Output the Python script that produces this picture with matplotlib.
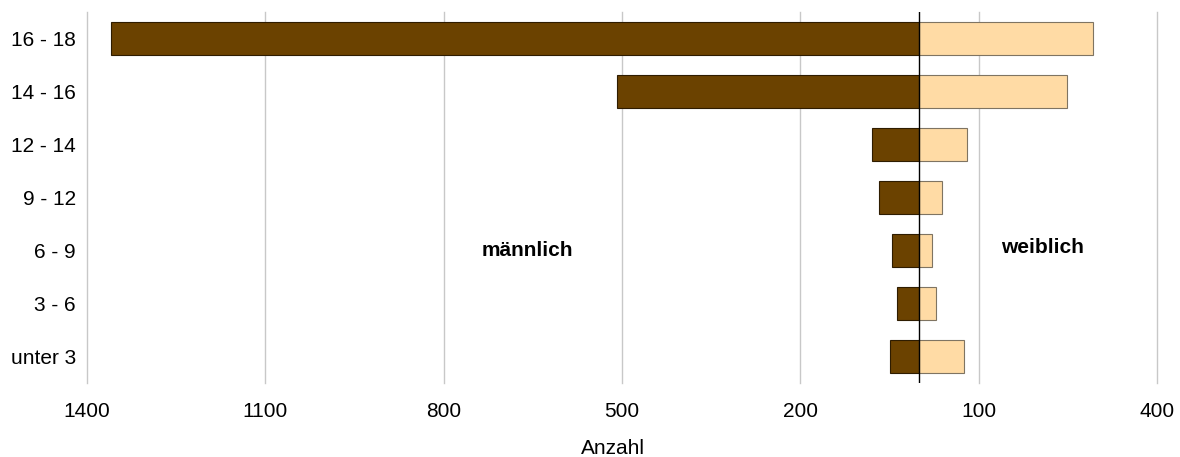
import matplotlib
matplotlib.use("Agg")
import matplotlib.pyplot as plt
import numpy as np

plt.rcParams['font.family'] = ['Liberation Sans', 'DejaVu Sans']

categories = ["unter 3", "3 - 6", "6 - 9", "9 - 12", "12 - 14", "14 - 16", "16 - 18"]
maennlich = [50, 37, 45, 67, 80, 508, 1360]
weiblich = [76, 28, 21, 39, 81, 248, 293]
tick_values = [-1400, -1100, -800, -500, -200, 100, 400]
tick_labels = ["1400", "1100", "800", "500", "200", "100", "400"]

fig = plt.figure(figsize=(11.8, 4.57), dpi=100)
ax = fig.add_axes([87/1180, 1-383/457, (1157-87)/1180, (383-12)/457])

y = np.arange(len(categories))
ax.barh(y, [-v for v in maennlich], height=0.63, color="#6B4200",
        edgecolor="#2E1C00", linewidth=0.8, zorder=3)
ax.barh(y, weiblich, height=0.63, color="#FFDBA5",
        edgecolor="#7F7462", linewidth=0.8, zorder=3)
ax.axvline(0, color="black", linewidth=1.0, zorder=4)

ax.set_xlim(-1400, 400)
ax.set_ylim(-0.5, len(categories) - 0.5)
ax.set_xticks(tick_values)
ax.set_xticklabels(tick_labels)
ax.set_yticks(y)
ax.set_yticklabels(categories)
ax.tick_params(axis='both', length=0, labelsize=15, colors="#000000")
ax.tick_params(axis='x', pad=14)
ax.tick_params(axis='y', pad=8)
ax.grid(axis='x', color="#C8C8C8", linewidth=1.0, zorder=0)
for gl in ax.get_xgridlines():
    gl.set_clip_on(False)
ax.set_axisbelow(True)
for s in ax.spines.values():
    s.set_visible(False)

ax.set_xlabel("Anzahl", fontsize=15)
ax.xaxis.set_label_coords((613-87)/1070, -(448-383)/371, transform=ax.transAxes)
ax.xaxis.label.set_va("center")

ax.text(-659, 2, "männlich", fontsize=15, fontweight="bold",
        ha="center", va="center")
ax.text(208, 2.06, "weiblich", fontsize=15, fontweight="bold",
        ha="center", va="center")

fig.savefig("out.png", dpi=100)
